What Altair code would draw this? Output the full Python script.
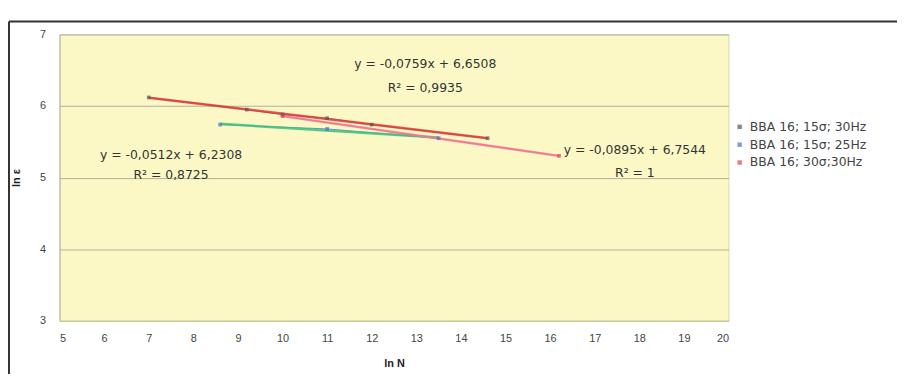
import altair as alt
import pandas as pd

series_names = ["BBA 16; 15σ; 30Hz", "BBA 16; 15σ; 25Hz", "BBA 16; 30σ;30Hz"]
s1_x = [7.0, 9.2, 10.0, 11.0, 12.0, 14.6]
s1_y = [6.12, 5.95, 5.88, 5.83, 5.74, 5.55]
s2_x = [8.6, 11.0, 13.5]
s2_y = [5.74, 5.68, 5.55]
s3_x = [10.0, 16.2]
s3_y = [5.859, 5.304]

marker_colors = ["#555555", "#4a6fd0", "#e04050"]
trend_colors = ["#e03a3a", "#3cc07a", "#f07898"]

eq_text = ["y = -0,0759x + 6,6508", "R² = 0,9935",
           "y = -0,0512x + 6,2308", "R² = 0,8725",
           "y = -0,0895x + 6,7544", "R² = 1"]
eq_x = [13.2, 13.2, 7.5, 7.5, 17.9, 17.9]
eq_y = [6.58, 6.25, 5.31, 5.03, 5.38, 5.07]

rows = []
for name, xs_, ys_ in zip(series_names, [s1_x, s2_x, s3_x], [s1_y, s2_y, s3_y]):
    for a, b in zip(xs_, ys_):
        rows.append({"series": name, "x": a, "y": b})
df = pd.DataFrame(rows)
labels = pd.DataFrame({"t": eq_text, "x": eq_x, "y": eq_y})

xs = alt.X("x:Q", scale=alt.Scale(domain=[5, 20], nice=False),
           axis=alt.Axis(title="ln N", values=list(range(5, 21)), grid=False, format="d",
                         tickSize=0, labelPadding=12, titlePadding=14,
                         domainColor="#c8c890"))
ys = alt.Y("y:Q", scale=alt.Scale(domain=[3, 7], nice=False),
           axis=alt.Axis(title="ln ε", values=[3, 4, 5, 6, 7], grid=True, format="d",
                         gridColor="#b0b0a0", tickSize=0, labelPadding=14,
                         titlePadding=18, domainColor="#b0b0a0"))

base = alt.Chart(df)
lines = base.mark_line(strokeWidth=1, opacity=0.8).encode(
    x=xs, y=ys, color=alt.Color("series:N", scale=alt.Scale(domain=series_names, range=marker_colors), legend=None))
trend = base.transform_regression("x", "y", groupby=["series"]).mark_line(strokeWidth=2.5, opacity=0.85).encode(
    x="x:Q", y="y:Q",
    stroke=alt.Stroke("series:N", scale=alt.Scale(domain=series_names, range=trend_colors), legend=None))
pts = base.mark_point(shape="square", size=14, filled=True).encode(
    x=xs, y=ys,
    fill=alt.Fill("series:N", scale=alt.Scale(domain=series_names, range=marker_colors),
                  legend=alt.Legend(title=None, orient="none", legendX=680, legendY=87,
                                    labelFontSize=12.5, labelFont="DejaVu Sans", labelColor="#444",
                                    symbolSize=20, symbolType="square", rowPadding=5)))

txt = alt.Chart(labels).mark_text(fontSize=12.5, color="#333", font="DejaVu Sans").encode(
    x="x:Q", y="y:Q", text="t:N")

frame_top = alt.Chart(pd.DataFrame({"a": [0]})).mark_rule(color="#333", strokeWidth=2).encode(
    x=alt.value(-51), x2=alt.value(860), y=alt.value(-13))
frame_left = alt.Chart(pd.DataFrame({"a": [0]})).mark_rule(color="#333", strokeWidth=2).encode(
    x=alt.value(-51), y=alt.value(-13), y2=alt.value(345))

chart = alt.layer(lines, trend, pts, txt, frame_top, frame_left).resolve_scale(
    color="independent", stroke="independent", fill="independent"
).properties(
    width=675, height=289,
    autosize=alt.AutoSizeParams(type="none"),
    padding={"left": 52, "top": 25, "right": 170, "bottom": 52},
    background="white",
).configure_view(fill="#fbf8c6", stroke="#d8d8b0").configure_axis(
    labelFont="Liberation Sans", titleFont="Liberation Sans", labelFontSize=11,
    titleFontSize=11, labelColor="#444", titleColor="#222"
)

chart.save("out.html", embed_options={"renderer": "svg", "actions": False})
